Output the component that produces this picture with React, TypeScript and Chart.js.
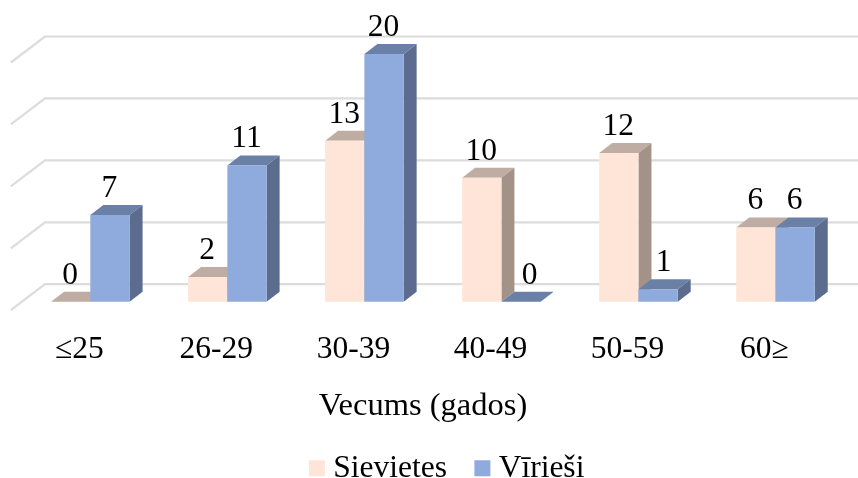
import React, { useEffect, useRef } from "react";
import { Chart, registerables } from "chart.js";

Chart.register(...registerables);

const categories = ["≤25", "26-29", "30-39", "40-49", "50-59", "60≥"];
const sievietes = [0, 2, 13, 10, 12, 6];
const virieši = [7, 11, 20, 0, 1, 6];
const seriesNames = ["Sievietes", "Vīrieši"];
const axisTitle = "Vecums (gados)";

const FONT = '"Liberation Serif", "Times New Roman", serif';
const SIZE = 31.5;
const DX = 13;
const DY = 10;
const shades = [
  { front: "#FEE5D8", top: "#BFACA2", side: "#A39288" },
  { front: "#8FAADC", top: "#6B80A6", side: "#5C6C8E" },
];

function poly(ctx: CanvasRenderingContext2D, pts: number[][], fill: string) {
  ctx.beginPath();
  pts.forEach((p, i) => (i ? ctx.lineTo(p[0], p[1]) : ctx.moveTo(p[0], p[1])));
  ctx.closePath();
  ctx.fillStyle = fill;
  ctx.fill();
}

const bars3d = {
  id: "bars3d",
  afterLayout(chart: any) {
    if (chart.legend) {
      chart.legend.left += 17.5;
      chart.legend.right += 17.5;
      chart.legend.top += 20;
      chart.legend.bottom += 20;
    }
  },
  beforeDatasetsDraw(chart: any) {
    const { ctx, scales, chartArea, width } = chart;
    ctx.save();
    ctx.strokeStyle = "#DCDCDC";
    ctx.lineWidth = 2.2;
    scales.y.ticks.forEach((t: any) => {
      const y = scales.y.getPixelForValue(t.value);
      ctx.beginPath();
      ctx.moveTo(chartArea.left - 11, y + 8.5);
      ctx.lineTo(chartArea.left + 23.2, y - 17.5);
      ctx.lineTo(width, y - 17.5);
      ctx.stroke();
    });
    ctx.restore();
  },
  // The library paints the first dataset last; here the second one must be on top.
  beforeDatasetDraw() {
    return false;
  },
  afterDatasetsDraw(chart: any) {
    const { ctx } = chart;
    chart.data.datasets.forEach((_: any, di: number) => {
      const c = shades[di];
      chart.getDatasetMeta(di).data.forEach((b: any) => {
        const l = b.x - b.width / 2;
        const r = b.x + b.width / 2;
        poly(ctx, [[l, b.y], [l + DX, b.y - DY], [r + DX, b.y - DY], [r, b.y]], c.top);
        if (b.base - b.y > 0.5) {
          poly(ctx, [[r, b.y], [r + DX, b.y - DY], [r + DX, b.base - DY], [r, b.base]], c.side);
        }
        b.draw(ctx);
      });
    });
    ctx.save();
    ctx.font = `${SIZE}px ${FONT}`;
    ctx.fillStyle = "#000";
    ctx.textAlign = "center";
    ctx.textBaseline = "alphabetic";
    chart.data.datasets.forEach((ds: any, di: number) => {
      chart.getDatasetMeta(di).data.forEach((b: any, i: number) => {
        const v = ds.data[i];
        const nudge = di === 1 && v <= 1 ? (v === 0 ? 9 : 6) : 0;
        ctx.fillText(String(v), b.x + nudge - 0.5, b.y - 18);
      });
    });
    ctx.font = `32.5px ${FONT}`;
    ctx.fillText(axisTitle, 423, 415);
    ctx.restore();
  },
};

export default function App() {
  const ref = useRef<HTMLCanvasElement>(null);
  useEffect(() => {
    const chart = new Chart(ref.current as HTMLCanvasElement, {
      type: "bar",
      data: {
        labels: categories,
        datasets: [
          { label: seriesNames[0], data: sievietes, backgroundColor: shades[0].front },
          { label: seriesNames[1], data: virieši, backgroundColor: shades[1].front },
        ],
      },
      options: {
        responsive: false,
        animation: false,
        layout: { padding: { left: 21.8, right: 14, top: 54, bottom: 4 } },
        datasets: { bar: { categoryPercentage: 0.573, barPercentage: 1 } } as any,
        plugins: {
          tooltip: { enabled: false },
          legend: {
            position: "bottom",
            labels: {
              font: { family: FONT, size: SIZE },
              color: "#000",
              usePointStyle: true,
              pointStyle: "rect",
              boxWidth: 1,
              boxHeight: 16,
              padding: 35,
            },
          },
        },
        scales: {
          x: {
            border: { display: false },
            grid: { display: false, drawTicks: false },
            ticks: {
              font: { family: FONT, size: SIZE },
              color: "#000",
              labelOffset: -11,
              padding: 29,
              maxRotation: 0,
              autoSkip: false,
            },
          },
          y: {
            display: false,
            min: 0,
            max: 20,
            ticks: { stepSize: 5 },
          },
        },
      },
      plugins: [bars3d],
    } as any);
    return () => chart.destroy();
  }, []);
  return (
    <div style={{ position: "fixed", left: 0, top: 0, width: 858, height: 478, background: "#fff" }}>
      <canvas ref={ref} width={858} height={478} style={{ display: "block", width: 858, height: 478 }} />
    </div>
  );
}
